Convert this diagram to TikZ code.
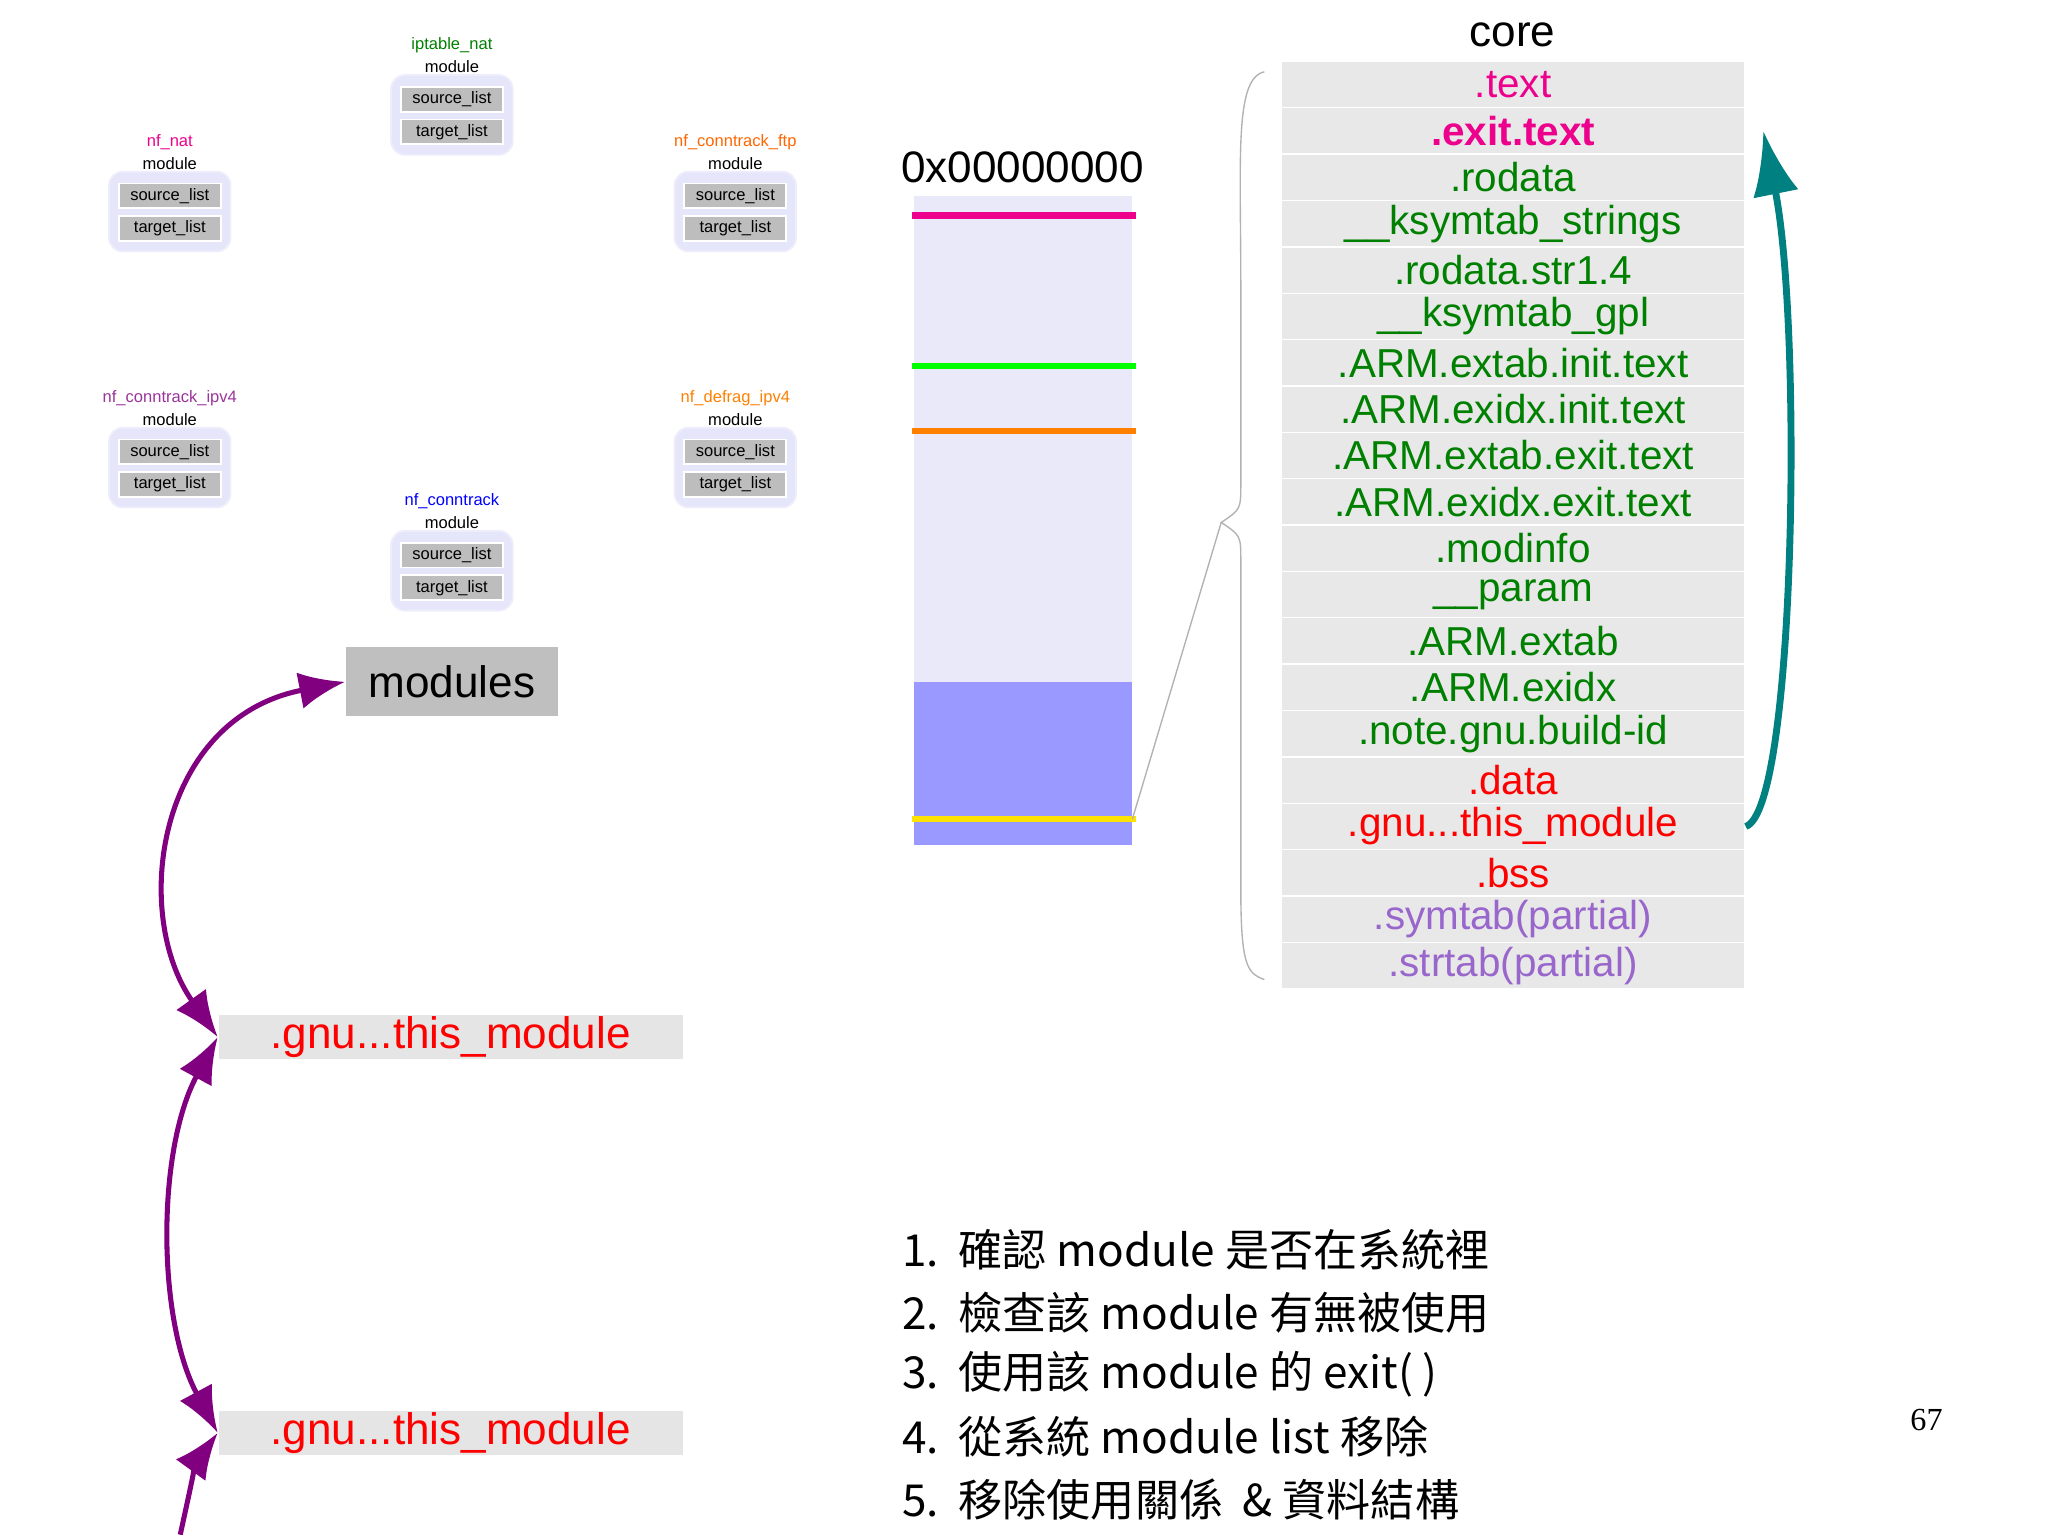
\documentclass[tikz,border=0pt]{standalone}
\usepackage{fontspec}
\setmainfont{Liberation Sans}
\newfontfamily\cjk{Noto Sans CJK TC}
\newfontfamily\serifnum{Liberation Serif}
\usetikzlibrary{arrows.meta,decorations.pathreplacing}
\definecolor{lav}{HTML}{E6E6FA}
\definecolor{cellg}{HTML}{BDBDBD}
\definecolor{dgreen}{HTML}{008000}
\definecolor{pur}{HTML}{9966CC}
\definecolor{teal2}{HTML}{008080}
\definecolor{purA}{HTML}{800080}
\tikzset{
  modbox/.style={fill=lav,draw=lav!70!white,rounded corners=3pt,minimum width=0.93cm,minimum height=0.61cm,inner sep=0},
  cell/.style={fill=cellg,draw=white,line width=0.4pt,minimum width=0.78cm,minimum height=0.19cm,inner sep=0,font=\fontsize{3.6}{4}\selectfont},
  mname/.style={font=\fontsize{3.6}{4}\selectfont,inner sep=0},
  row/.style={fill=gray!18,draw=white,line width=0.3pt,minimum width=3.55cm,minimum height=0.355cm,inner sep=0,font=\fontsize{8.8}{9}\selectfont},
  gnubar/.style={fill=gray!20,minimum width=3.55cm,minimum height=0.34cm,inner sep=0,text=red,font=\fontsize{9.6}{10}\selectfont},
  listtxt/.style={anchor=west,inner sep=0,font=\cjk\fontsize{9.6}{10}\selectfont},
  parr/.style={purA,line width=1.1pt,-{Latex[length=10pt,width=8pt]}},
}
\begin{document}
\begin{tikzpicture}[x=0.01cm,y=-0.01cm]
\useasboundingbox (0,0) rectangle (1568,1175);
% modules small
\foreach \id/\nm/\col/\cx/\ny in {ipt/iptable\_nat/dgreen/346/35, nat/nf\_nat/magenta/130/109, ftp/nf\_conntrack\_ftp/orange!80!red/563/109, ipv4/nf\_conntrack\_ipv4/purA!80/130/305, defrag/nf\_defrag\_ipv4/orange/563/305, ct/nf\_conntrack/blue/346/384}{
  \node[mname,text=\col] (\id n) at (\cx,\ny) {\nm};
  \node[mname] (\id m) at (\cx,\ny+16) {module};
  \node[modbox] (\id b) at (\cx,\ny+53) {};
  \node[cell] (\id s) at (\cx,\ny+41) {source\_list};
  \node[cell] (\id t) at (\cx,\ny+66) {target\_list};
}
\node[fill=gray!50,minimum width=1.62cm,minimum height=0.53cm,inner sep=0,font=\fontsize{9.6}{10}\selectfont] (mods) at (346,522) {modules};
\node[gnubar] (g1) at (345,794) {.gnu...this\_module};
\node[gnubar] (g2) at (345,1097) {.gnu...this\_module};
\coordinate (gend) at (138,1175);
\draw[parr,{Latex[length=10pt,width=8pt]}-{Latex[length=10pt,width=8pt]}] (mods.west) .. controls (120,550) and (100,700) .. (g1.west);
\draw[parr,{Latex[length=10pt,width=8pt]}-{Latex[length=10pt,width=8pt]}] (g1.west) .. controls (120,880) and (120,1010) .. (g2.west);
\draw[parr,{Latex[length=10pt,width=8pt]}-] (g2.west) .. controls (150,1120) .. (gend);
% memory column
\node[font=\fontsize{9.6}{10}\selectfont,inner sep=0] (addr) at (783,128) {0x00000000};
\fill[lav!90] (700,150) rectangle (867,522);
\fill[blue!40] (700,522) rectangle (867,647);
\node[inner sep=0,minimum width=1.67cm,minimum height=4.97cm] (col) at (783.5,398.5) {};
\foreach \y/\c in {165/magenta,280/green,330/orange,627/yellow!85!orange}
  \draw[\c,line width=1.4pt] (698,\y) -- (870,\y);
% core
\node[font=\fontsize{9.6}{10}\selectfont,inner sep=0] (core) at (1158,27) {core};
\foreach \i/\t/\c in {1/{.text}/magenta,2/{\textbf{.exit.text}}/magenta,3/{.rodata}/dgreen,4/{\_\_ksymtab\_strings}/dgreen,5/{.rodata.str1.4}/dgreen,6/{\_\_ksymtab\_gpl}/dgreen,7/{.ARM.extab.init.text}/dgreen,8/{.ARM.exidx.init.text}/dgreen,9/{.ARM.extab.exit.text}/dgreen,10/{.ARM.exidx.exit.text}/dgreen,11/{.modinfo}/dgreen,12/{\_\_param}/dgreen,13/{.ARM.extab}/dgreen,14/{.ARM.exidx}/dgreen,15/{.note.gnu.build-id}/dgreen,16/{.data}/red,17/{.gnu...this\_module}/red,18/{.bss}/red,19/{.symtab(partial)}/pur,20/{.strtab(partial)}/pur}
  \node[row,text=\c] (r\i) at (1158.5,{47+(\i-0.5)*35.5}) {\t};
\coordinate (btip) at (935,400);
\draw[gray!60,line width=0.3pt] (968,55) .. controls (945,60) and (950,120) .. (950,220) -- (950,370) .. controls (950,390) .. (btip) .. controls (950,410) .. (950,430) -- (950,680) .. controls (950,740) and (955,745) .. (968,750);
\draw[gray!60,line width=0.3pt] (btip) -- (867,627);
\draw[teal2,line width=1.5pt,-{Latex[length=14pt,width=10pt]}] (r17.east) .. controls (1375,620) and (1380,250) .. (1350,100);
% list
\node[listtxt] (l1) at (690,957) {1.\ \ 確認 module 是否在系統裡};
\node[listtxt] (l2) at (690,1005) {2.\ \ 檢查該 module 有無被使用};
\node[listtxt] (l3) at (690,1052) {3.\ \ 使用該 module 的 exit( )};
\node[listtxt] (l4) at (690,1100) {4.\ \ 從系統 module list 移除};
\node[listtxt] (l5) at (690,1148) {5.\ \ 移除使用關係\ \ \&\ 資料結構};
\node[font=\serifnum\fontsize{7}{8}\selectfont,inner sep=0] (pg) at (1475,1087) {67};
\end{tikzpicture}
\end{document}
